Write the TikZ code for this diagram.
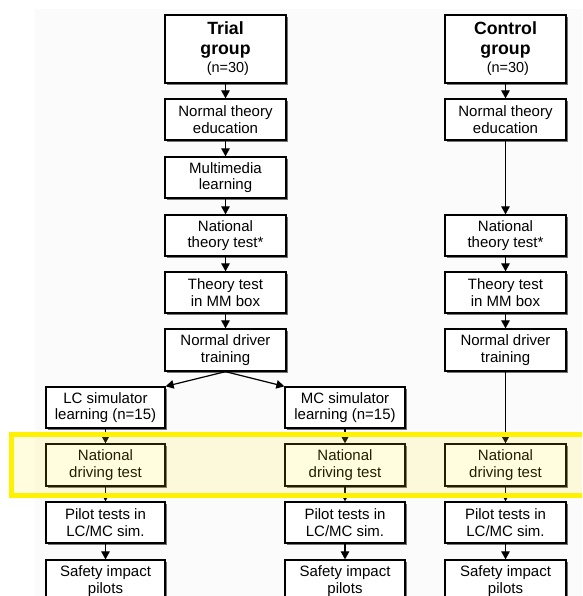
\documentclass[tikz,border=0pt]{standalone}
\usepackage{fontspec}
\setmainfont{Liberation Sans}
\usetikzlibrary{arrows.meta,shadows}
\tikzset{
  box/.style={draw, line width=1.3pt, fill=white, align=center, inner sep=0pt,
    minimum height=41pt, font=\fontsize{15}{16.5}\selectfont,
    drop shadow={shadow xshift=2.4pt, shadow yshift=-2.4pt, fill=black!55, opacity=1}},
  wmain/.style={minimum width=121pt},
  wlc/.style={minimum width=119pt},
  wmc/.style={minimum width=120pt},
  arr/.style={line width=1.2pt, -{Triangle[length=8pt,width=8.5pt]}},
  band/.style={draw=yellow, line width=5pt, fill=yellow, fill opacity=0.13, draw opacity=1},
  head/.style={font=\fontsize{17.7}{20}\selectfont\bfseries}
}
\begin{document}
\begin{tikzpicture}[x=1pt,y=-1pt]
\clip (0,0) rectangle (582,596);
\fill[white] (0,0) rectangle (582,596);
\fill[black!1.5] (35,9) rectangle (582,596);
% trial column
\node[box,wmain,minimum height=68pt,head] (trial) at (225.5,49) {Trial\\group\\[-2pt]{\fontsize{14.5}{16}\selectfont\mdseries\,\,(n=30)}};
\node[box,wmain] (nte1) at (225.5,119.5) {Normal theory\\education};
\node[box,wmain] (mm) at (225.5,177.5) {Multimedia\\learning};
\node[box,wmain] (ntt1) at (225.5,235.5) {National\\theory test*};
\node[box,wmain] (tt1) at (225.5,292.5) {Theory test\\in MM box};
\node[box,wmain,minimum height=42pt] (ndt1) at (225.5,350) {Normal driver\\training};
\node[box,wlc] (lc) at (105.5,407.5) {LC simulator\\learning (n=15)};
\node[box,wmc] (mc) at (345,407.5) {MC simulator\\learning (n=15)};
\node[box,wlc,minimum height=42pt] (ndr1) at (105.5,465) {National\\driving test};
\node[box,wmc,minimum height=42pt] (ndr2) at (345,465) {National\\driving test};
\node[box,wlc] (pil1) at (105.5,522.5) {Pilot tests in\\LC/MC sim.};
\node[box,wmc] (pil2) at (345,522.5) {Pilot tests in\\LC/MC sim.};
\node[box,wlc,minimum height=42pt] (saf1) at (105.5,581) {Safety impact\\pilots};
\node[box,wmc,minimum height=42pt] (saf2) at (345,581) {Safety impact\\pilots};
% control column
\node[box,wmain,minimum height=68pt,head] (ctrl) at (505.5,49) {Control\\group\\[-2pt]{\fontsize{14.5}{16}\selectfont\mdseries\,\,(n=30)}};
\node[box,wmain] (nte2) at (505.5,119.5) {Normal theory\\education};
\node[box,wmain] (ntt2) at (505.5,235.5) {National\\theory test*};
\node[box,wmain] (tt2) at (505.5,292.5) {Theory test\\in MM box};
\node[box,wmain,minimum height=42pt] (ndt2) at (505.5,350) {Normal driver\\training};
\node[box,wmain,minimum height=42pt] (ndr3) at (505.5,465) {National\\driving test};
\node[box,wmain] (pil3) at (505.5,522.5) {Pilot tests in\\LC/MC sim.};
\node[box,wmain,minimum height=42pt] (saf3) at (505.5,581) {Safety impact\\pilots};
% arrows
\draw[arr] (trial) -- (nte1);
\draw[arr] (nte1) -- (mm);
\draw[arr] (mm) -- (ntt1);
\draw[arr] (ntt1) -- (tt1);
\draw[arr] (tt1) -- (ndt1);
\draw[arr] (ndt1.south) -- (lc.north east);
\draw[arr] (ndt1.south) -- (mc.north west);
\draw[arr] (lc) -- (ndr1);
\draw[arr] (mc) -- (ndr2);
\draw[arr] (ndr1) -- (pil1);
\draw[arr] (ndr2) -- (pil2);
\draw[arr] (pil1) -- (saf1);
\draw[arr] (pil2) -- (saf2);
\draw[arr] (ctrl) -- (nte2);
\draw[arr] (nte2) -- (ntt2);
\draw[arr] (ntt2) -- (tt2);
\draw[arr] (tt2) -- (ndt2);
\draw[arr] (ndt2) -- (ndr3);
\draw[arr] (ndr3) -- (pil3);
\draw[arr] (pil3) -- (saf3);
% highlight band
\path[band] (11.5,434.5) rectangle (600,495.5);
\end{tikzpicture}
\end{document}
